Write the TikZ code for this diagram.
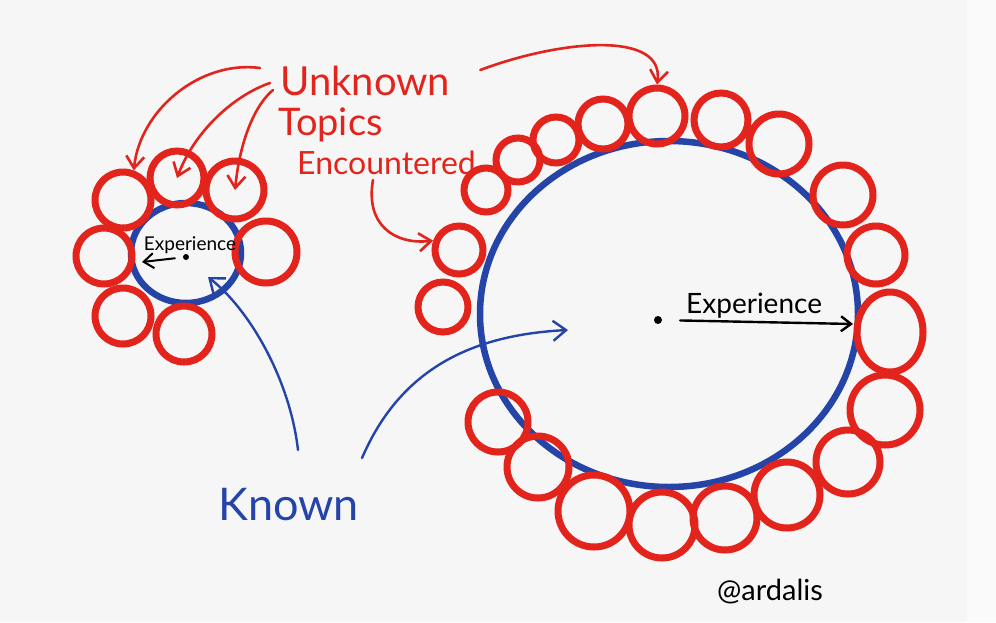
\documentclass[tikz,border=0pt]{standalone}
\usepackage{fontspec}
\setmainfont{Lato}
\usetikzlibrary{arrows.meta,shapes.geometric}

\definecolor{topicred}{RGB}{226,36,28}
\definecolor{knownblue}{RGB}{36,68,168}
\definecolor{paper}{RGB}{246,246,246}
\definecolor{paperedge}{RGB}{250,250,250}

\tikzset{
  topic/.style={circle, draw=topicred, line width=7pt, inner sep=0pt, minimum size=#1},
  known/.style={ellipse, draw=knownblue, line width=6.5pt, inner sep=0pt},
  centerdot/.style={circle, fill=black, inner sep=0pt, minimum size=#1},
  redtext/.style={text=topicred, inner sep=0pt, anchor=base west, font=\fontsize{#1}{#1}\selectfont},
  redarrow/.style={draw=topicred, line width=2.6pt, line cap=round, -{Straight Barb[length=12pt,width=18pt]}},
  bluearrow/.style={draw=knownblue, line width=2.4pt, line cap=round, -{Straight Barb[length=13pt,width=20pt]}},
  exparrow/.style={draw=black, line width=2.4pt, line cap=round, -{Straight Barb[length=10pt,width=15pt]}},
}

\begin{document}
\begin{tikzpicture}[x=1pt, y=-1pt]
    % Paper
    \fill[paper] (0,0) rectangle (996,622);
    \fill[paperedge] (967,0) rectangle (996,622);
    \useasboundingbox (0,0) rectangle (996,622);

    % Known areas
    \node[known, minimum width=110, minimum height=100] (sknown) at (186,253) {};
    \node[known, minimum width=378, minimum height=346] (bknown) at (669,314) {};

    % Unknown topics round the small area
    \node[topic=56] (s1) at (123,200) {};
    \node[topic=54] (s2) at (177,178) {};
    \node[topic=58] (s3) at (235,190) {};
    \node[topic=56] (s4) at (104,256) {};
    \node[topic=62] (s5) at (266,252) {};
    \node[topic=56] (s6) at (123,316) {};
    \node[topic=56] (s7) at (184,334) {};

    % Unknown topics round the big area
    \node[topic=50] (l1) at (443,307) {};
    \node[topic=48] (l2) at (459,250) {};
    \node[topic=44] (l3) at (486,190) {};
    \node[topic=44] (l4) at (518,160) {};
    \node[topic=46] (l5) at (556,140) {};
    \node[topic=50] (l6) at (603,124) {};
    \node[topic=56] (l7) at (657,116) {};
    \node[topic=54] (l8) at (721,120) {};
    \node[topic=60] (l9) at (779,144) {};
    \node[topic=60] (l10) at (843,195) {};
    \node[topic=58] (l11) at (876,255) {};
    \node[topic=66, ellipse, minimum height=80] (l12) at (890,332) {};
    \node[topic=70] (l13) at (885,410) {};
    \node[topic=64] (l14) at (848,462) {};
    \node[topic=66] (l15) at (787,495) {};
    \node[topic=64] (l16) at (725,518) {};
    \node[topic=66] (l17) at (662,525) {};
    \node[topic=72] (l18) at (594,511) {};
    \node[topic=62] (l19) at (538,467) {};
    \node[topic=60] (l20) at (498,422) {};

    % Experience, small
    \node[centerdot=6] (sdot) at (186,257) {};
    \node[font=\fontsize{19}{19}\selectfont, anchor=base, inner sep=0pt] (sexp) at (190,250) {Experience};
    \coordinate (stip) at (142,262);
    \draw[exparrow, line width=2pt, shorten <=8pt] (sdot) -- (stip);

    % Experience, big
    \node[centerdot=8] (bdot) at (658,320) {};
    \node[font=\fontsize{28}{28}\selectfont, anchor=base west, inner sep=0pt] (bexp) at (686,313) {Experience};
    \coordinate (btip) at (853,324);
    \draw[exparrow, shorten <=18pt] (bdot) -- (btip);

    % Labels
    \node[redtext=40] (unk) at (280,95) {Unknown};
    \node[redtext=38] (topics) at (278,135) {Topics};
    \node[redtext=32] (enc) at (297,174) {Encountered};
    \node[text=knownblue, inner sep=0pt, anchor=base west, font=\fontsize{45}{45}\selectfont] (knowntext) at (218,520) {Known};
    \node[inner sep=0pt, anchor=base west, font=\fontsize{29}{29}\selectfont] (author) at (717,600) {@ardalis};

    % Red arrows
    \draw[redarrow] ([shift={(-20,-27)}]unk.base west) .. controls (200,60) and (140,110) .. (s1.70);
    \draw[redarrow] ([shift={(-10,-12)}]unk.base west) .. controls (235,95) and (195,130) .. (s2.center);
    \draw[redarrow] ([shift={(-7,-5)}]unk.base west) .. controls (255,105) and (240,140) .. (s3.center);
    \draw[redarrow] ([shift={(30,-25)}]unk.base east) .. controls (560,40) and (665,30) .. (l7.north);
    \draw[redarrow] ([shift={(76,6)}]enc.base west) .. controls (365,225) and (395,245) .. (l2.160);

    % Blue arrows
    \draw[bluearrow] ([shift={(80,-70)}]knowntext.base west) .. controls (290,380) and (250,310) .. ([shift={(22,24)}]sknown.center);
    \draw[bluearrow] ([shift={(144,-62)}]knowntext.base west) .. controls (400,370) and (470,335) .. ([shift={(-101,16)}]bknown.center);
\end{tikzpicture}
\end{document}
